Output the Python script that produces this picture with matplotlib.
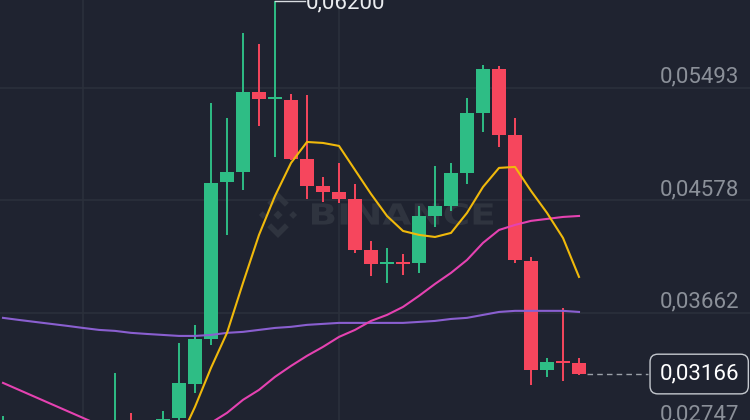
import matplotlib.pyplot as plt
import matplotlib.transforms as mtransforms
from matplotlib.patches import Polygon, PathPatch
from matplotlib.textpath import TextPath
from matplotlib.font_manager import FontProperties
import numpy as np

# candle data (price), one candle per slot
opens = [0.0272, 0.0275, 0.0271, 0.0268, 0.0270, 0.0266, 0.0264, 0.0267, 0.0274, 0.0271,
         0.0273, 0.02809, 0.03086, 0.03452, 0.04729, 0.04810, 0.05461, 0.05404, 0.05396, 0.04916,
         0.04696, 0.04647, 0.04590, 0.04176, 0.04062, 0.04070, 0.04070, 0.04452, 0.04534, 0.04802,
         0.05290, 0.05648, 0.05111, 0.04086, 0.03200, 0.03265, 0.03257]
highs = [0.02826, 0.0277, 0.0274, 0.0273, 0.0272, 0.0269, 0.0270, 0.03175, 0.02850, 0.0277,
         0.02866, 0.03419, 0.03566, 0.05371, 0.05249, 0.05941, 0.05851, 0.06200, 0.05444, 0.05436,
         0.04769, 0.04883, 0.04712, 0.04249, 0.04192, 0.04143, 0.04534, 0.04859, 0.04883, 0.05412,
         0.05680, 0.05672, 0.05249, 0.04119, 0.03297, 0.03704, 0.03297]
lows = [0.0268, 0.0268, 0.0265, 0.0264, 0.0262, 0.0260, 0.0261, 0.0263, 0.0266, 0.0268,
        0.0270, 0.0277, 0.03013, 0.03403, 0.04298, 0.04664, 0.05184, 0.04932, 0.04908, 0.04590,
        0.04566, 0.04558, 0.04151, 0.03964, 0.03907, 0.03972, 0.03989, 0.04363, 0.04493, 0.04712,
        0.05135, 0.05013, 0.04070, 0.03078, 0.03143, 0.03110, 0.03159]
closes = [0.0276, 0.0271, 0.0268, 0.0270, 0.0266, 0.0264, 0.0267, 0.0274, 0.0271, 0.0273,
          0.02801, 0.03094, 0.03452, 0.04721, 0.04810, 0.05461, 0.05404, 0.05412, 0.04916, 0.04696,
          0.04647, 0.04590, 0.04176, 0.04062, 0.04070, 0.04062, 0.04452, 0.04534, 0.04802, 0.05290,
          0.05648, 0.05111, 0.04094, 0.03200, 0.03265, 0.03257, 0.03166]

nan = np.nan
ma7 = [nan] * 11 + [0.0262, 0.02899, 0.03216, 0.03501, 0.03907, 0.04298, 0.04615, 0.04883, 0.05054,
                    0.05046, 0.05022, 0.04826, 0.04631, 0.04452, 0.04330, 0.04298, 0.04281, 0.04314,
                    0.04477, 0.04688, 0.04843, 0.04851, 0.04656, 0.04477, 0.04273, 0.03956]
ma25 = [0.03094, 0.03037, 0.02980, 0.02923, 0.02866, 0.02809, 0.02752, 0.0268, 0.0264, 0.0263,
        0.0263, 0.0265, 0.02695, 0.02769, 0.02850, 0.02956, 0.03037, 0.03143, 0.03232, 0.03314,
        0.03387, 0.03468, 0.03525, 0.03598, 0.03647, 0.03712, 0.03802, 0.03899, 0.03989, 0.04094,
        0.04233, 0.04338, 0.04379, 0.04412, 0.04428, 0.04444, 0.04452]
ma99 = [0.03623, 0.03606, 0.03590, 0.03574, 0.03558, 0.03541, 0.03525, 0.03517, 0.03501, 0.03492,
        0.03484, 0.03476, 0.03476, 0.03484, 0.03501, 0.03509, 0.03525, 0.03541, 0.03550, 0.03566,
        0.03574, 0.03582, 0.03582, 0.03582, 0.03582, 0.03582, 0.03590, 0.03598, 0.03614, 0.03623,
        0.03647, 0.03671, 0.03680, 0.03680, 0.03680, 0.03680, 0.03671]

price_ticks = [0.05493, 0.04578, 0.03662, 0.02747]
vgrid_slots = [5, 21]
last_price = 0.03166

BG = "#1f2330"
GRID = "#2b303b"
GREEN = "#2ebd85"
RED = "#f6465d"
W, H = 750, 420

plt.rcParams["font.family"] = ["Roboto", "DejaVu Sans"]

fig = plt.figure(figsize=(W / 100, H / 100), dpi=100, facecolor=BG)
ax = fig.add_axes([0, 0, 1, 1])
ax.set_facecolor(BG)
ax.set_xlim(-3 / 16, -3 / 16 + W / 16)
ax.set_ylim(0.02792, 0.06209)
ax.axis("off")


def fmt(v):
    return f"{v:.5f}".replace(".", ",")


def px(xp, yp):
    return (xp / W, 1 - yp / H)


# grid
for t in price_ticks:
    ax.axhline(t, color=GRID, lw=1.2, zorder=0)
for s in vgrid_slots:
    ax.axvline(s, color=GRID, lw=1.2, zorder=0)

# watermark
wm = "#2f343f"
s = 23
logo = [
    [(0, 1), (0.47, 0.53), (0.3, 0.36), (0, 0.66), (-0.3, 0.36), (-0.47, 0.53)],
    [(0, -1), (0.47, -0.53), (0.3, -0.36), (0, -0.66), (-0.3, -0.36), (-0.47, -0.53)],
    [(0, 0.2), (0.2, 0), (0, -0.2), (-0.2, 0)],
    [(-0.66, 0.17), (-0.49, 0), (-0.66, -0.17), (-0.83, 0)],
    [(0.66, 0.17), (0.83, 0), (0.66, -0.17), (0.49, 0)],
]
for poly in logo:
    pts = [px(278 + s * a, 215 - s * b) for a, b in poly]
    ax.add_patch(Polygon(pts, closed=True, fc=wm, ec="none", transform=ax.transAxes, zorder=0.5))

# word mark stretched to the box it fills in the picture (pixels 312..493 x 203..225)
tp = TextPath((0, 0), "BINANCE", size=1, prop=FontProperties(family="DejaVu Sans", weight="bold"))
ext = tp.get_extents()
sx = 181 / ext.width
sy = 22 / ext.height
word_tr = (mtransforms.Affine2D().translate(-ext.x0, -ext.y0).scale(sx, sy)
           .translate(312, H - 225) + mtransforms.Affine2D().scale(1 / W, 1 / H) + ax.transAxes)
ax.add_patch(PathPatch(tp, fc=wm, ec="none", transform=word_tr, zorder=0.5))

# candles
x = np.arange(len(opens))
o, h, l, c = map(np.array, (opens, highs, lows, closes))
cols = np.where(c >= o, GREEN, RED)
ax.vlines(x, l, h, colors=cols, lw=1.4, zorder=2)
ax.bar(x, np.maximum(np.abs(c - o), 0.00014), 0.875, np.minimum(o, c), color=cols, zorder=3)

# moving averages
ax.plot(x, ma99, color="#8a5fd0", lw=1.5, zorder=4)
ax.plot(x, ma25, color="#e542b1", lw=1.5, zorder=4)
ax.plot(x, ma7, color="#f0b90b", lw=1.5, zorder=4)

# price scale labels
lab_tr = mtransforms.offset_copy(ax.get_yaxis_transform(), fig=fig, y=11, units="dots")
for t in price_ticks:
    ax.text(739 / W, t, fmt(t), transform=lab_tr, color="#8b9099", fontsize=16,
            ha="right", va="center")

# highest price marker
im = int(np.argmax(h))
ax.plot([im, im + 1.9], [h[im], h[im]], color="#d8dce1", lw=1, zorder=5)
ax.text(im + 1.95, h[im] - 0.00014, fmt(h[im]), color="#eaecef", fontsize=16,
        ha="left", va="center", zorder=5)

# last price line and box
ax.plot([x[-1] + 0.5, 648 / 16 - 3 / 16], [last_price, last_price], color="#9aa0a8",
        lw=1, ls=(0, (4, 3)), zorder=5)
ax.text(739 / W, last_price, fmt(last_price), transform=ax.get_yaxis_transform(),
        color="#ffffff", fontsize=16, ha="right", va="center", zorder=6,
        bbox=dict(boxstyle="round,pad=0.42,rounding_size=0.35", fc=BG, ec="#c4c8ce", lw=1))

fig.savefig("out.png", dpi=100, facecolor=BG)
